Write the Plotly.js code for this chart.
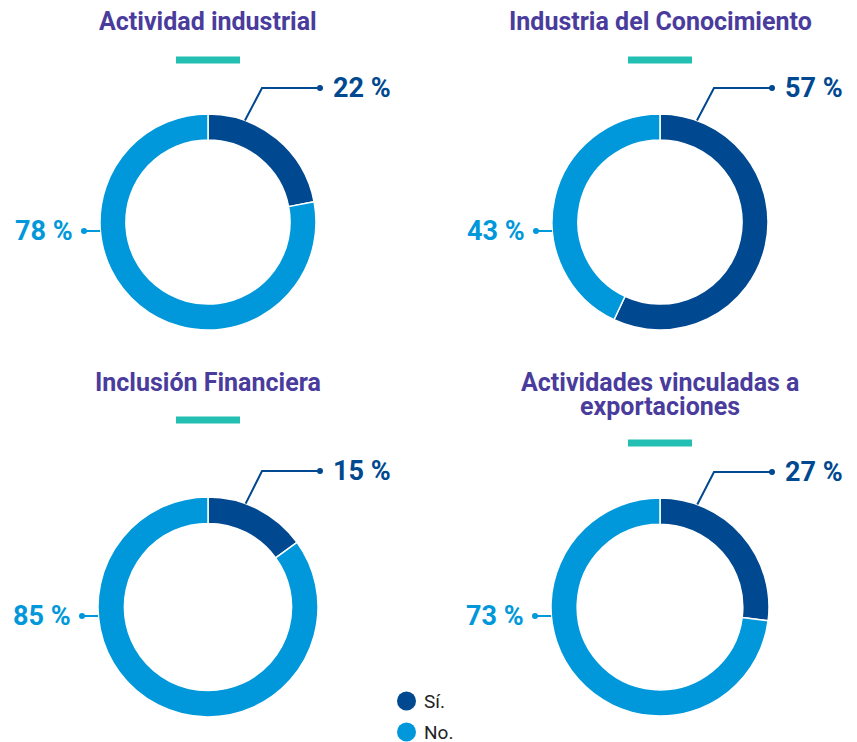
<!DOCTYPE html>
<html><head><meta charset="utf-8">
<script src="https://cdn.plot.ly/plotly-3.0.1.min.js"></script>
<style>html,body{margin:0;padding:0;background:#fff}#chart{width:857px;height:742px}</style>
</head><body><div id="chart"></div>
<script>
const categories = ["Sí.", "No."];
const chartTitles = ["Actividad industrial", "Industria del Conocimiento", "Inclusión Financiera", "Actividades vinculadas a<br>exportaciones"];
const siValues = [22, 57, 15, 27];
const noValues = [78, 43, 85, 73];

const W = 857, H = 742;
const DARK = "#00488F", LIGHT = "#0098DA", PURPLE = "#4A3C9C", TEAL = "#22BFB2";
const FONT = "Roboto, 'Liberation Sans', Arial, sans-serif";
const px = x => x / W, py = y => 1 - y / H;

// layout geometry for each donut (pixels)
const geo = [
  {cx: 208, cy: 222, r: 108, ty: 22, barY: 60},
  {cx: 660, cy: 222, r: 108, ty: 22, barY: 60},
  {cx: 208, cy: 607, r: 110, ty: 382, barY: 420},
  {cx: 660, cy: 607, r: 109, ty: 382, barY: 443}
];

const data = [];
const shapes = [];
const annotations = [];

geo.forEach((g, i) => {
  data.push({
    type: "pie",
    values: [siValues[i], noValues[i]],
    labels: categories,
    sort: false,
    direction: "clockwise",
    rotation: 0,
    hole: 0.76,
    textinfo: "none",
    hoverinfo: "label+percent",
    showlegend: false,
    marker: {colors: [DARK, LIGHT], line: {color: "#ffffff", width: 1.5}},
    domain: {x: [px(g.cx - g.r), px(g.cx + g.r)], y: [py(g.cy + g.r), py(g.cy - g.r)]}
  });
  // title (one annotation per line for tight line spacing)
  chartTitles[i].split("<br>").forEach((line, k) => {
    annotations.push({
      xref: "paper", yref: "paper", x: px(g.cx), y: py(g.ty + 25 * k), xanchor: "center", yanchor: "middle",
      text: "<b>" + line + "</b>", showarrow: false, align: "center",
      font: {family: FONT, size: 25, color: PURPLE}
    });
  });
  // teal bar
  shapes.push({type: "rect", xref: "paper", yref: "paper", x0: px(g.cx - 32), x1: px(g.cx + 32),
    y0: py(g.barY + 3.5), y1: py(g.barY - 3.5), fillcolor: TEAL, line: {width: 0}});
  // Sí leader line
  const a = 20 * Math.PI / 180;
  const sx = g.cx + g.r * Math.sin(a), sy = g.cy - g.r * Math.cos(a);
  const ky = g.cy - g.r - 26, kx = g.cx + 54;
  const ex = g.cx + 112;
  shapes.push({type: "path", xref: "paper", yref: "paper",
    path: `M ${px(sx)} ${py(sy)} L ${px(kx)} ${py(ky)} L ${px(ex)} ${py(ky)}`,
    line: {color: DARK, width: 2}});
  shapes.push({type: "circle", xref: "paper", yref: "paper",
    x0: px(ex - 3), x1: px(ex + 3), y0: py(ky + 3), y1: py(ky - 3), fillcolor: DARK, line: {width: 0}});
  annotations.push({xref: "paper", yref: "paper", x: px(ex + 11), y: py(ky), xanchor: "left", yanchor: "middle",
    text: "<b>" + siValues[i] + " %</b>", showarrow: false, font: {family: FONT, size: 27, color: DARK}});
  // No leader line
  const ny = g.cy + 9, nx0 = g.cx - g.r, nx1 = g.cx - g.r - 16;
  shapes.push({type: "line", xref: "paper", yref: "paper", x0: px(nx1), x1: px(nx0), y0: py(ny), y1: py(ny),
    line: {color: LIGHT, width: 2}});
  shapes.push({type: "circle", xref: "paper", yref: "paper",
    x0: px(nx1 - 3), x1: px(nx1 + 3), y0: py(ny + 3), y1: py(ny - 3), fillcolor: LIGHT, line: {width: 0}});
  annotations.push({xref: "paper", yref: "paper", x: px(nx1 - 9), y: py(ny), xanchor: "right", yanchor: "middle",
    text: "<b>" + noValues[i] + " %</b>", showarrow: false, font: {family: FONT, size: 27, color: LIGHT}});
});

// legend
[[DARK, 701], [LIGHT, 732]].forEach((c, k) => {
  shapes.push({type: "circle", xref: "paper", yref: "paper",
    x0: px(397), x1: px(416), y0: py(c[1] + 9.5), y1: py(c[1] - 9.5), fillcolor: c[0], line: {width: 0}});
  annotations.push({xref: "paper", yref: "paper", x: px(422), y: py(c[1]), xanchor: "left", yanchor: "middle",
    text: categories[k], showarrow: false, font: {family: FONT, size: 19, color: "#222222"}});
});

Plotly.newPlot("chart", data, {
  width: W, height: H,
  margin: {l: 0, r: 0, t: 0, b: 0},
  paper_bgcolor: "#ffffff", plot_bgcolor: "#ffffff",
  showlegend: false,
  shapes: shapes, annotations: annotations
}, {displayModeBar: false, staticPlot: true});
</script></body></html>
